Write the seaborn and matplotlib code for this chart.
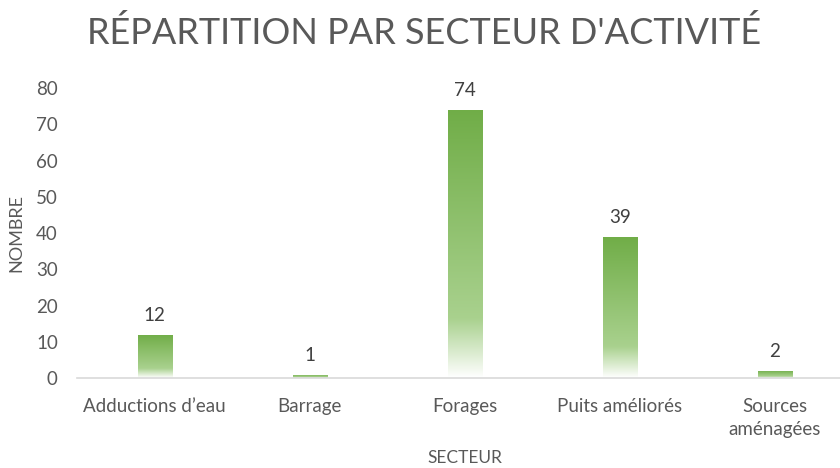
import numpy as np
import pandas as pd
import seaborn as sns
import matplotlib.pyplot as plt
from matplotlib.colors import LinearSegmentedColormap

# Data
secteurs = ['Adductions d\u2019eau', 'Barrage', 'Forages', 'Puits améliorés', 'Sources\naménagées']
nombres = [12, 1, 74, 39, 2]

df = pd.DataFrame({'secteur': secteurs, 'nombre': nombres})

sns.set_style('white')
plt.rcParams['font.family'] = ['Lato', 'DejaVu Sans']
grey = '#595959'

fig = plt.figure(figsize=(8.4, 4.68), dpi=100)
ax = fig.add_axes([0.092, 0.192, 0.908, 0.62])

sns.barplot(data=df, x='secteur', y='nombre', color='#70AD47', width=0.22, ax=ax)

# green gradient fading to white at the bottom of each bar
cmap = LinearSegmentedColormap.from_list(
    'grad', [(0, '#FFFFFF'), (0.22, '#A9D18E'), (1, '#70AD47')])
grad = np.linspace(0, 1, 256).reshape(-1, 1)
for p in ax.patches:
    x0, y0 = p.get_x(), p.get_y()
    w, h = p.get_width(), p.get_height()
    im = ax.imshow(grad, cmap=cmap, aspect='auto', origin='lower',
                   extent=[x0, x0 + w, y0, y0 + h], zorder=2)
    im.set_clip_path(p)
    p.set_facecolor('none')
    p.set_edgecolor('none')
    ax.text(x0 + w / 2, h + 3, str(int(h)), ha='center', va='bottom',
            fontsize=13.5, color='#404040', clip_on=False)

ax.set_xlim(-0.5, 4.42)
ax.set_ylim(0, 80)
ax.set_yticks(range(0, 81, 10))
ax.tick_params(axis='both', length=0, labelsize=13.5, labelcolor=grey)
ax.tick_params(axis='x', pad=14)
ax.tick_params(axis='y', pad=14)
for lbl in ax.get_xticklabels():
    lbl.set_linespacing(1.45)

for s in ['top', 'right', 'left']:
    ax.spines[s].set_visible(False)
ax.spines['bottom'].set_color('#D9D9D9')
ax.spines['bottom'].set_linewidth(1.2)

ax.set_xlabel('')
ax.set_ylabel('NOMBRE', fontsize=13, color=grey, labelpad=8)
fig.text(0.553, 0.022, 'SECTEUR', fontsize=12.5, color=grey, ha='center', va='center')
fig.suptitle("RÉPARTITION PAR SECTEUR D'ACTIVITÉ", fontsize=26, color=grey,
             x=0.505, y=0.965)

plt.savefig('out.png', dpi=100)
